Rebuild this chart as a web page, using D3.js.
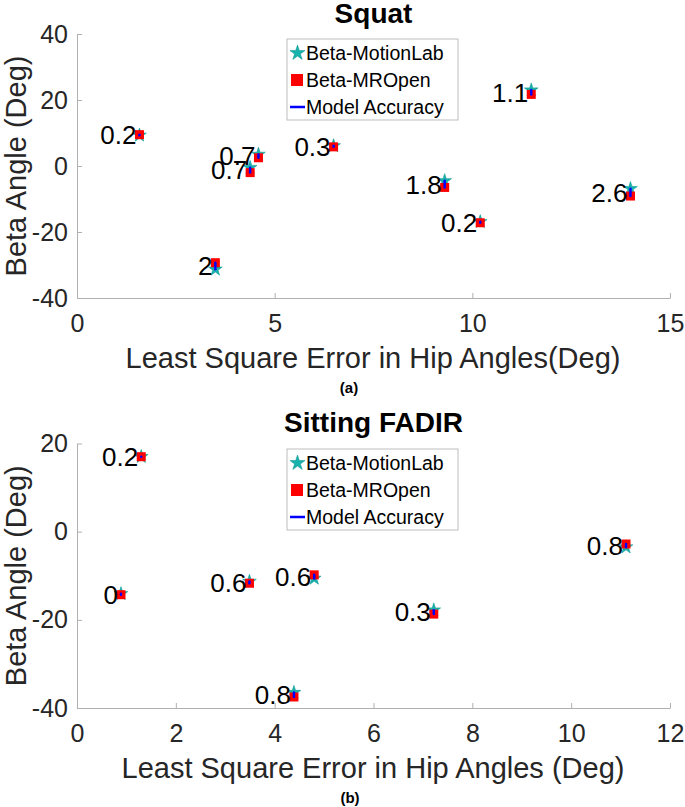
<!DOCTYPE html>
<html>
<head>
<meta charset="utf-8">
<script src="https://cdn.jsdelivr.net/npm/d3@7"></script>
<style>
body { margin: 0; background: #fff; }
svg { display: block; font-family: "Liberation Sans", Arial, sans-serif; }
.axis path, .axis line { stroke: #b0b0b0; }
.axis .tick text { fill: #262626; font-size: 25px; font-family: "Liberation Sans", Arial, sans-serif; }
</style>
</head>
<body>
<svg id="chart" width="685" height="807"></svg>
<script>
// Squat panel
const squatX = [1.58, 4.59, 4.38, 6.49, 11.49, 9.30, 14.0, 10.2, 3.5];
const squatMotionLab = [9.3, 3.5, -0.5, 6.1, 23.0, -4.5, -6.9, -16.9, -31.3];
const squatMROpen = [9.5, 2.5, -2.0, 5.8, 21.7, -6.5, -9.1, -17.2, -29.3];
const squatAccuracy = ['0.2', '0.7', '0.7', '0.3', '1.1', '1.8', '2.6', '0.2', '2'];
const squatXTicks = [0, 5, 10, 15];
const squatYTicks = [-40, -20, 0, 20, 40];

// Sitting FADIR panel
const fadirX = [1.30, 0.89, 3.49, 4.80, 11.11, 7.22, 4.39];
const fadirMotionLab = [17.0, -14.1, -11.3, -10.6, -3.5, -17.8, -36.5];
const fadirMROpen = [17.0, -14.3, -11.7, -9.8, -2.8, -18.7, -37.5];
const fadirAccuracy = ['0.2', '0', '0.6', '0.6', '0.8', '0.3', '0.8'];
const fadirXTicks = [0, 2, 4, 6, 8, 10, 12];
const fadirYTicks = [-40, -20, 0, 20];

const legendNames = ['Beta-MotionLab', 'Beta-MROpen', 'Model Accuracy'];

var TEAL = '#19b2ac';
var RED = '#ff0000';
var BLUE = '#0000ff';

var svg = d3.select('#chart');
svg.append('rect').attr('width', 685).attr('height', 807).attr('fill', '#fff');

function drawPanel(p) {
    var x = d3.scaleLinear().domain(p.xDomain).range([77, 670]);
    var y = d3.scaleLinear().domain(p.yDomain).range([p.bottom, p.top]);

    var pts = p.xs.map(function (v, i) {
        return {x: v, a: p.star[i], b: p.square[i], label: p.labels[i]};
    });

    var g = svg.append('g');

    g.append('g')
    .attr('class', 'axis')
    .attr('transform', 'translate(0,' + p.bottom + ')')
    .call(d3.axisBottom(x).tickValues(p.xTicks).tickSizeInner(-5).tickSizeOuter(0).tickPadding(16));

    g.append('g')
    .attr('class', 'axis')
    .attr('transform', 'translate(77,0)')
    .call(d3.axisLeft(y).tickValues(p.yTicks).tickSizeInner(-5).tickSizeOuter(0).tickPadding(9));

    g.selectAll('.axis text').text(function (d) { return d < 0 ? '-' + Math.abs(d) : d; });

    // title
    g.append('text')
    .attr('x', 373.5).attr('y', p.titleY)
    .attr('text-anchor', 'middle')
    .attr('font-weight', 'bold').attr('font-size', 28).attr('fill', '#000')
    .text(p.title);

    // axis labels
    g.append('text')
    .attr('x', 373).attr('y', p.xLabelY)
    .attr('text-anchor', 'middle')
    .attr('font-size', 29).attr('fill', '#262626')
    .text(p.xLabel);

    g.append('text')
    .attr('transform', 'translate(26,' + (p.top + p.bottom) / 2 + ') rotate(-90)')
    .attr('text-anchor', 'middle')
    .attr('font-size', 29).attr('fill', '#262626')
    .text('Beta Angle (Deg)');

    // markers
    g.selectAll('.star')
    .data(pts).enter()
    .append('path')
    .attr('class', 'star')
    .attr('d', d3.symbol().type(d3.symbolStar).size(58))
    .attr('transform', function (d) { return 'translate(' + x(d.x) + ',' + y(d.a) + ')'; })
    .attr('fill', TEAL).attr('stroke', '#0f9a94').attr('stroke-width', 0.6);

    g.selectAll('.sq')
    .data(pts).enter()
    .append('rect')
    .attr('class', 'sq')
    .attr('x', function (d) { return x(d.x) - 4.5; })
    .attr('y', function (d) { return y(d.b) - 4.5; })
    .attr('width', 9).attr('height', 9)
    .attr('fill', RED);

    g.selectAll('.acc')
    .data(pts).enter()
    .append('line')
    .attr('class', 'acc')
    .attr('x1', function (d) { return x(d.x); })
    .attr('x2', function (d) { return x(d.x); })
    .attr('y1', function (d) { return y(d.a); })
    .attr('y2', function (d) { return y(d.b); })
    .attr('stroke', BLUE).attr('stroke-width', 2.5).attr('stroke-linecap', 'round');

    g.selectAll('.lab')
    .data(pts).enter()
    .append('text')
    .attr('class', 'lab')
    .attr('x', function (d) { return x(d.x) - 3; })
    .attr('y', function (d) { return y((d.a + d.b) / 2); })
    .attr('dy', '0.36em')
    .attr('text-anchor', 'end')
    .attr('font-size', 26).attr('fill', '#000')
    .text(function (d) { return d.label; });

    // legend
    var lg = g.append('g').attr('transform', 'translate(287,' + p.legendY + ')');
    lg.append('rect')
    .attr('width', 171).attr('height', 81)
    .attr('fill', '#fff').attr('stroke', '#bdbdbd');

    legendNames.forEach(function (name, i) {
        var cy = 14 + i * 27;
        if (i == 0) {
            lg.append('path')
            .attr('d', d3.symbol().type(d3.symbolStar).size(70))
            .attr('transform', 'translate(10.5,' + cy + ')')
            .attr('fill', TEAL).attr('stroke', '#0f9a94').attr('stroke-width', 0.6);
        } else if (i == 1) {
            lg.append('rect')
            .attr('x', 4).attr('y', cy - 6).attr('width', 12).attr('height', 12)
            .attr('fill', RED);
        } else {
            lg.append('line')
            .attr('x1', 3).attr('x2', 18).attr('y1', cy).attr('y2', cy)
            .attr('stroke', BLUE).attr('stroke-width', 2.5);
        }
        lg.append('text')
        .attr('x', 19).attr('y', cy).attr('dy', '0.36em')
        .attr('font-size', 19.5).attr('fill', '#000')
        .text(name);
    });

    // sub caption
    g.append('text')
    .attr('x', p.capX).attr('y', p.capY)
    .attr('text-anchor', 'middle')
    .attr('font-weight', 'bold').attr('font-size', 15).attr('fill', '#000')
    .text(p.caption);
}

drawPanel({
    title: 'Squat', titleY: 23,
    xs: squatX, star: squatMotionLab, square: squatMROpen, labels: squatAccuracy,
    xDomain: [0, 15], yDomain: [-40, 40], xTicks: squatXTicks, yTicks: squatYTicks,
    top: 34, bottom: 298,
    xLabel: 'Least Square Error in Hip Angles(Deg)', xLabelY: 368,
    legendY: 39, caption: '(a)', capX: 349, capY: 393
});

drawPanel({
    title: 'Sitting FADIR', titleY: 432,
    xs: fadirX, star: fadirMotionLab, square: fadirMROpen, labels: fadirAccuracy,
    xDomain: [0, 12], yDomain: [-40, 20], xTicks: fadirXTicks, yTicks: fadirYTicks,
    top: 443.5, bottom: 708,
    xLabel: 'Least Square Error in Hip Angles (Deg)', xLabelY: 778,
    legendY: 449, caption: '(b)', capX: 350, capY: 803
});
</script>
</body>
</html>
